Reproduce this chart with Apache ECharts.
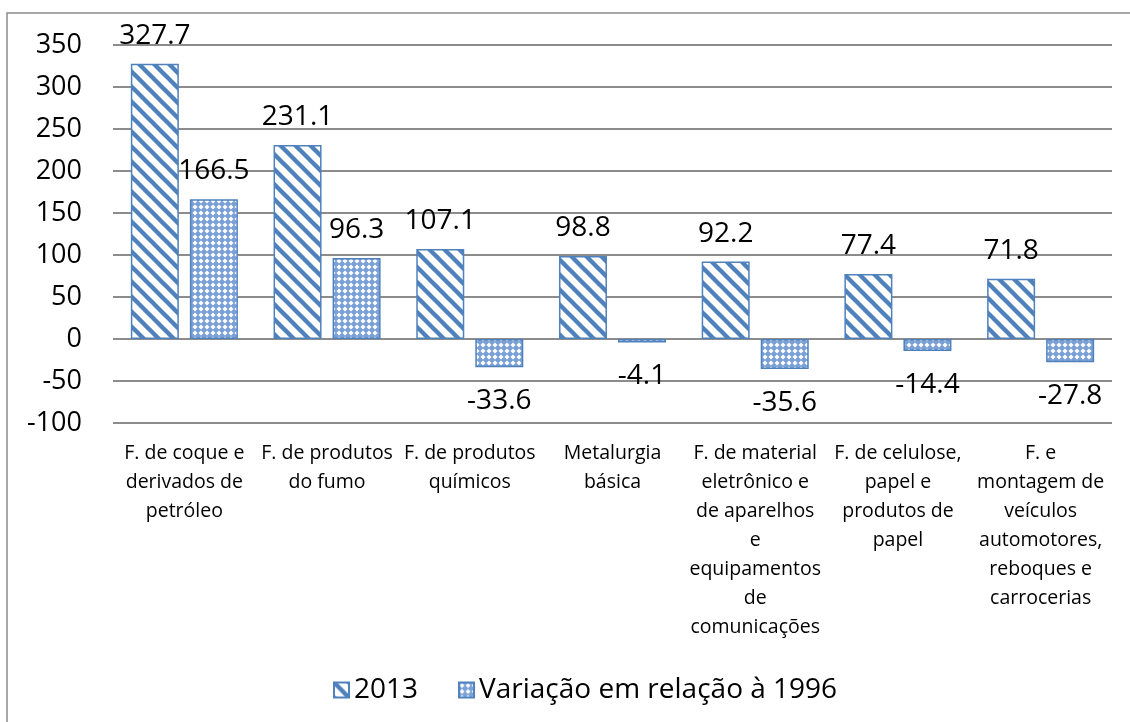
<!DOCTYPE html>
<html>
<head>
<meta charset="utf-8">
<script src="https://cdn.jsdelivr.net/npm/echarts@6/dist/echarts.min.js"></script>
<style>
  html, body { margin: 0; padding: 0; background: #fff; }
  #chart { width: 1130px; height: 722px; }
</style>
</head>
<body>
<div id="chart"></div>
<script>
// categories and values
const categories = [
  'F. de coque e\nderivados de\npetróleo',
  'F. de produtos\ndo fumo',
  'F. de produtos\nquímicos',
  'Metalurgia\nbásica',
  'F. de material\neletrônico e\nde aparelhos\ne\nequipamentos\nde\ncomunicações',
  'F. de celulose,\npapel e\nprodutos de\npapel',
  'F. e\nmontagem de\nveículos\nautomotores,\nreboques e\ncarrocerias',
];
const values2013 = [327.7, 231.1, 107.1, 98.8, 92.2, 77.4, 71.8];
const variacao = [166.5, 96.3, -33.6, -4.1, -35.6, -14.4, -27.8];
const yTicks = { min: -100, max: 350, interval: 50 };

const BLUE = '#4F81BD';
const FONT = '"Open Sans", sans-serif';

// wide downward diagonal stripes
function stripeTile() {
  const s = 15;
  const c = document.createElement('canvas');
  c.width = s; c.height = s;
  const g = c.getContext('2d');
  g.fillStyle = '#fff';
  g.fillRect(0, 0, s, s);
  g.strokeStyle = BLUE;
  g.lineWidth = 4.4;
  for (let k = -2; k <= 2; k++) {
    g.beginPath();
    g.moveTo(-s, -s + k * s);
    g.lineTo(2 * s, 2 * s + k * s);
    g.stroke();
  }
  return c;
}

// small confetti / lattice pattern
function confettiTile() {
  const s = 6;
  const c = document.createElement('canvas');
  c.width = s; c.height = s;
  const g = c.getContext('2d');
  g.fillStyle = '#7aa0d6';
  g.fillRect(0, 0, s, s);
  g.fillStyle = '#ffffff';
  g.beginPath();
  g.moveTo(3, 0.5); g.lineTo(5.5, 3); g.lineTo(3, 5.5); g.lineTo(0.5, 3);
  g.closePath();
  g.fill();
  return c;
}

function withLabels(vals) {
  return vals.map(v => ({
    value: v,
    label: v < 0 ? { position: 'bottom', distance: 20 } : { position: 'top', distance: 14 },
  }));
}

const chart = echarts.init(document.getElementById('chart'));
chart.setOption({
  animation: false,
  textStyle: { fontFamily: FONT },
  grid: { left: 113, right: 18, top: 45, bottom: 299 },
  graphic: [{
    type: 'rect',
    shape: { x: 7, y: 13, width: 1300, height: 900 },
    style: { fill: 'none', stroke: '#8c8c8c', lineWidth: 1.5 },
    silent: true,
  }],
  legend: {
    bottom: 13,
    left: 328,
    itemWidth: 15,
    itemHeight: 15,
    itemGap: 40,
    icon: 'rect',
    textStyle: { fontSize: 28, color: '#000', fontFamily: FONT },
    data: ['2013', 'Variação em relação à 1996'],
  },
  xAxis: {
    type: 'category',
    data: categories,
    axisLine: { show: false, onZero: false },
    axisTick: { show: false },
    axisLabel: {
      interval: 0,
      margin: 16,
      fontSize: 19.5,
      lineHeight: 29,
      color: '#000',
      fontFamily: FONT,
    },
  },
  yAxis: {
    type: 'value',
    min: yTicks.min,
    max: yTicks.max,
    interval: yTicks.interval,
    axisLine: { show: false },
    axisTick: { show: false },
    axisLabel: { fontSize: 27, color: '#000', margin: 31, fontFamily: FONT },
    splitLine: { lineStyle: { color: '#8c8c8c', width: 2 } },
  },
  series: [
    {
      name: '2013',
      type: 'bar',
      barWidth: 48,
      barGap: '23%',
      data: withLabels(values2013),
      itemStyle: {
        color: { image: stripeTile(), repeat: 'repeat' },
        borderColor: BLUE,
        borderWidth: 1.5,
      },
      label: { show: true, fontSize: 28, color: '#000', fontFamily: FONT },
    },
    {
      name: 'Variação em relação à 1996',
      type: 'bar',
      barWidth: 48,
      data: withLabels(variacao),
      itemStyle: {
        color: { image: confettiTile(), repeat: 'repeat' },
        borderColor: BLUE,
        borderWidth: 1.5,
      },
      label: { show: true, fontSize: 28, color: '#000', fontFamily: FONT },
    },
  ],
});
</script>
</body>
</html>
